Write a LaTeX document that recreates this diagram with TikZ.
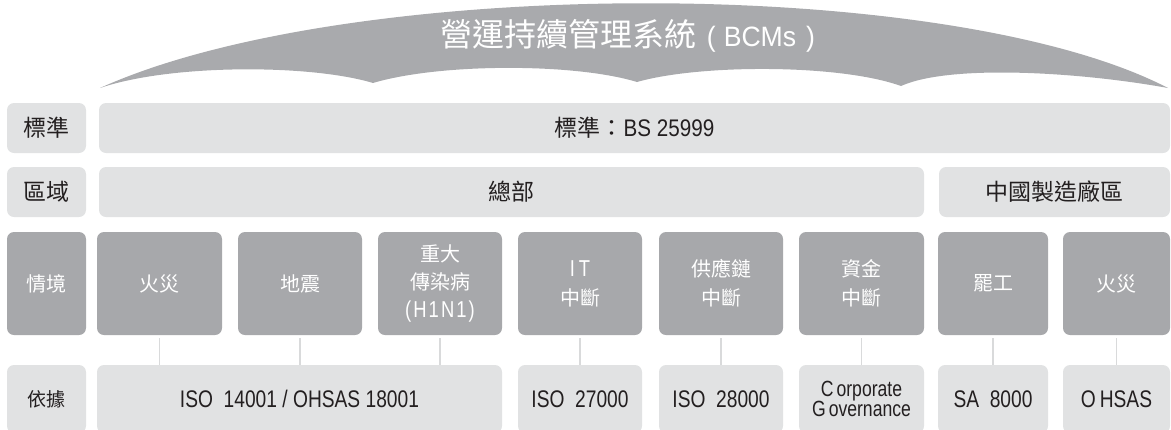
\documentclass[tikz,border=0pt]{standalone}
\usepackage{fontspec}
\setmainfont{Noto Sans CJK TC}
\newfontfamily\lat[FakeStretch=0.8]{Liberation Sans}
\newfontfamily\latb[FakeStretch=0.86]{Liberation Sans}
\newfontfamily\latw[FakeStretch=0.95]{Liberation Sans}
\newfontfamily\latsp[FakeStretch=0.8,LetterSpace=9]{Liberation Sans}
\definecolor{bannergray}{HTML}{A9AAAD}
\definecolor{boxdark}{HTML}{A7A8AB}
\definecolor{boxlight}{HTML}{E1E2E3}
\definecolor{ink}{HTML}{231F20}
\definecolor{connc}{HTML}{D9DADB}
\tikzset{
  basebox/.style={rounded corners=7pt, inner sep=0pt, align=center, draw=none},
  darkbox/.style={basebox, fill=boxdark, text=white, font=\fontsize{20}{29}\selectfont},
  lightbox/.style={basebox, fill=boxlight, text=ink, font=\fontsize{23}{28}\selectfont},
  reflat/.style={font=\lat\fontsize{24}{28}\selectfont},
  conn/.style={draw=connc, line width=1.3pt, shorten <=3pt},
  titletext/.style={text=white, inner sep=0pt, font=\fontsize{32}{36}\selectfont}
}
\begin{document}
\begin{tikzpicture}[x=1pt,y=-1pt]
\useasboundingbox (0,0) rectangle (1171,429);
\clip (0,0) rectangle (1171,429);
% banner
\fill[bannergray] (100,88) .. controls (350,-25) and (950,-25) .. (1168,88)
  .. controls (1080,72) and (950,64) .. (901,86)
  .. controls (840,64) and (700,64) .. (637,82)
  .. controls (575,63) and (440,63) .. (373,83)
  .. controls (310,64) and (170,64) .. (100,88) -- cycle;
\node[titletext] (bcms) at (628,36) {營運持續管理系統{\latw\fontsize{28}{32}\selectfont\kern10pt(\kern8pt BCMs\kern10pt)}};
% row 1
\node[lightbox, minimum width=79pt, minimum height=50pt] (lab1) at (46.5,128) {標準};
\node[lightbox, minimum width=1071pt, minimum height=50pt] (std) at (634.5,128) {標準：{\latb\fontsize{24}{28}\selectfont BS 25999}};
% row 2
\node[lightbox, minimum width=79pt, minimum height=50pt] (lab2) at (46.5,192) {區域};
\node[lightbox, minimum width=825pt, minimum height=50pt] (hq) at (511.5,192) {總部};
\node[lightbox, minimum width=231pt, minimum height=50pt] (cn) at (1054.5,192) {中國製造廠區};
% row 3
\node[darkbox, minimum width=79pt, minimum height=103pt] (lab3) at (46.5,283.5) {情境};
\node[darkbox, minimum width=125pt, minimum height=103pt] (s1) at (159.5,283.5) {火災};
\node[darkbox, minimum width=124pt, minimum height=103pt] (s2) at (300,283.5) {地震};
\node[darkbox, minimum width=124pt, minimum height=103pt, font=\fontsize{20}{28}\selectfont] (s3) at (440,283.5) {重大\\傳染病\\{\latsp\fontsize{23}{28}\selectfont(H1N1)}};
\node[darkbox, minimum width=124pt, minimum height=103pt] (s4) at (580,283.5) {{\lat\fontsize{23}{29}\selectfont I\kern4pt T}\\中斷};
\node[darkbox, minimum width=124pt, minimum height=103pt] (s5) at (721,283.5) {供應鏈\\中斷};
\node[darkbox, minimum width=125pt, minimum height=103pt] (s6) at (861.5,283.5) {資金\\中斷};
\node[darkbox, minimum width=110pt, minimum height=103pt] (s7) at (993,283.5) {罷工};
\node[darkbox, minimum width=107pt, minimum height=103pt] (s8) at (1116.5,283.5) {火災};
% row 4
\node[lightbox, minimum width=79pt, minimum height=68pt, font=\fontsize{19}{24}\selectfont] (lab4) at (46.5,399) {依據};
\node[lightbox, reflat, minimum width=405pt, minimum height=68pt] (b1) at (299.5,399) {ISO\ \ 14001 / OHSAS 18001};
\node[lightbox, reflat, minimum width=124pt, minimum height=68pt] (b2) at (580,399) {ISO\ \ 27000};
\node[lightbox, reflat, minimum width=124pt, minimum height=68pt] (b3) at (721,399) {ISO\ \ 28000};
\node[lightbox, minimum width=125pt, minimum height=68pt, font=\lat\fontsize{22}{20}\selectfont] (b4) at (861.5,399) {C\kern3pt orporate\\G\kern3pt overnance};
\node[lightbox, reflat, minimum width=110pt, minimum height=68pt] (b5) at (993,399) {SA\ \ 8000};
\node[lightbox, reflat, minimum width=107pt, minimum height=68pt] (b6) at (1116.5,399) {O\kern4pt HSAS};
% connectors
\draw[conn] (s1.south) -- (s1.south |- b1.north);
\draw[conn] (s2.south) -- (s2.south |- b1.north);
\draw[conn] (s3.south) -- (s3.south |- b1.north);
\draw[conn] (s4.south) -- (b2.north);
\draw[conn] (s5.south) -- (b3.north);
\draw[conn] (s6.south) -- (b4.north);
\draw[conn] (s7.south) -- (b5.north);
\draw[conn] (s8.south) -- (b6.north);
\end{tikzpicture}
\end{document}
